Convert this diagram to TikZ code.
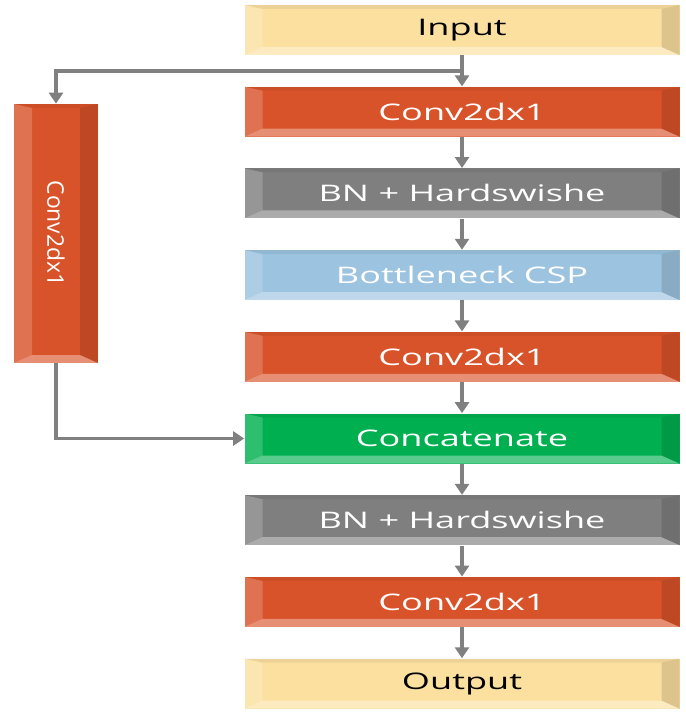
\documentclass[tikz,border=0pt]{standalone}
\usepackage{fontspec}
\setmainfont{Open Sans}[FakeStretch=1.58]
\newfontfamily\sidefont{Open Sans}
\usepackage{graphicx}
\usetikzlibrary{arrows.meta,positioning,calc}
\definecolor{ioyellow}{HTML}{FBE0A0}
\definecolor{convorange}{HTML}{D9532A}
\definecolor{bngray}{HTML}{7F7F7F}
\definecolor{cspblue}{HTML}{9CC3E0}
\definecolor{catgreen}{HTML}{00B050}
\definecolor{linkgray}{HTML}{808080}

\begin{document}
\begin{tikzpicture}[
    every node/.style={font=\fontsize{13}{15}\selectfont},
    block/.style={rectangle, minimum width=8.7cm, minimum height=1.0cm, inner sep=0pt,
      path picture={
        \coordinate (nw) at (path picture bounding box.north west);
        \coordinate (ne) at (path picture bounding box.north east);
        \coordinate (sw) at (path picture bounding box.south west);
        \coordinate (se) at (path picture bounding box.south east);
        \fill[black, opacity=0.06] (nw) -- (ne) -- ($(ne)+(-0.36,-0.08)$) -- ($(nw)+(0.36,-0.08)$) -- cycle;
        \fill[white, opacity=0.35] (sw) -- (se) -- ($(se)+(-0.36,0.16)$) -- ($(sw)+(0.36,0.16)$) -- cycle;
        \fill[white, opacity=0.18] (nw) -- (sw) -- ($(sw)+(0.36,0.16)$) -- ($(nw)+(0.36,-0.08)$) -- cycle;
        \fill[black, opacity=0.12] (ne) -- (se) -- ($(se)+(-0.36,0.16)$) -- ($(ne)+(-0.36,-0.08)$) -- cycle;
      }},
    io/.style={block, fill=ioyellow, text=black},
    conv/.style={block, fill=convorange, text=white},
    bn/.style={block, fill=bngray, text=white},
    csp/.style={block, fill=cspblue, text=white},
    cat/.style={block, fill=catgreen, text=white},
    link/.style={-{Triangle[length=2.2mm, width=2.8mm]}, draw=linkgray, line width=2pt},
    node distance=0.62cm
]
\useasboundingbox (0,0) rectangle (13.7,-14.24);

% ---- main column ----
\node[io] (input) at (9.24,-0.6) {Input};
\node[conv, below=of input] (conva) {Conv2dx1};
\node[bn, below=of conva] (bna) {BN + Hardswishe};
\node[csp, below=of bna] (csp) {Bottleneck CSP};
\node[conv, below=of csp] (convb) {Conv2dx1};
\node[cat, below=of convb] (cat) {Concatenate};
\node[bn, below=of cat] (bnb) {BN + Hardswishe};
\node[conv, below=of bnb] (convc) {Conv2dx1};
\node[io, below=of convc] (output) {Output};

% ---- side branch ----
\node[conv, minimum width=1.68cm, minimum height=5.18cm, font=\sidefont\fontsize{13}{15}\selectfont] (side) at (1.12,-4.67) {\rotatebox{-90}{Conv2dx1}};
\coordinate (split) at ($(input.south)!0.5!(conva.north)$);

% ---- connectors ----
\draw[link] (input) -- (conva);
\draw[link] (conva) -- (bna);
\draw[link] (bna) -- (csp);
\draw[link] (csp) -- (convb);
\draw[link] (convb) -- (cat);
\draw[link] (cat) -- (bnb);
\draw[link] (bnb) -- (convc);
\draw[link] (convc) -- (output);
\draw[link] (split) -| (side.north);
\draw[link] (side.south) |- (cat.west);
\end{tikzpicture}
\end{document}
